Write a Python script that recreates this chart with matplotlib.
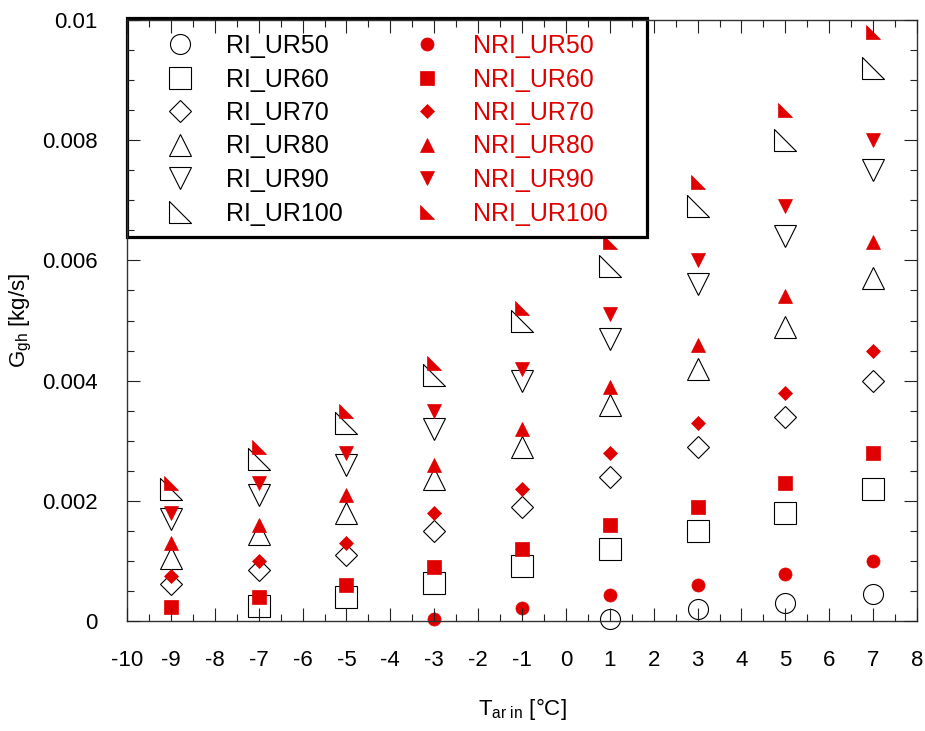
import numpy as np
import matplotlib
matplotlib.use("Agg")
import matplotlib.pyplot as plt
from matplotlib.patches import Rectangle
from matplotlib.path import Path
from matplotlib.ticker import MultipleLocator, FuncFormatter

plt.rcParams['font.family'] = ['Liberation Sans', 'DejaVu Sans']
plt.rcParams['mathtext.fontset'] = 'custom'
plt.rcParams['mathtext.rm'] = 'Liberation Sans'
plt.rcParams['mathtext.it'] = 'Liberation Sans'

nan = np.nan

# Inlet air temperature [°C]
T_in = [-9, -7, -5, -3, -1, 1, 3, 5, 7]

# Mass flow with insulation (RI), by relative humidity
RI_UR50 = [nan, nan, nan, nan, nan, 0.00004, 0.0002, 0.0003, 0.00045]
RI_UR60 = [nan, 0.00025, 0.0004, 0.00063, 0.00092, 0.0012, 0.0015, 0.0018, 0.0022]
RI_UR70 = [0.00061, 0.00085, 0.0011, 0.0015, 0.0019, 0.0024, 0.0029, 0.0034, 0.0040]
RI_UR80 = [0.00105, 0.00145, 0.0018, 0.00237, 0.0029, 0.0036, 0.0042, 0.0049, 0.0057]
RI_UR90 = [0.0017, 0.0021, 0.0026, 0.0032, 0.0040, 0.0047, 0.0056, 0.0064, 0.0075]
RI_UR100 = [0.0022, 0.0027, 0.0033, 0.0041, 0.0050, 0.0059, 0.0069, 0.0080, 0.0092]

# Mass flow without insulation (NRI)
NRI_UR50 = [nan, nan, nan, 0.00004, 0.00022, 0.00043, 0.0006, 0.00078, 0.0010]
NRI_UR60 = [0.00024, 0.0004, 0.0006, 0.0009, 0.0012, 0.0016, 0.0019, 0.0023, 0.0028]
NRI_UR70 = [0.00075, 0.0010, 0.0013, 0.0018, 0.0022, 0.0028, 0.0033, 0.0038, 0.0045]
NRI_UR80 = [0.0013, 0.0016, 0.0021, 0.0026, 0.0032, 0.0039, 0.0046, 0.0054, 0.0063]
NRI_UR90 = [0.0018, 0.0023, 0.0028, 0.0035, 0.0042, 0.0051, 0.0060, 0.0069, 0.0080]
NRI_UR100 = [0.0023, 0.0029, 0.0035, 0.0043, 0.0052, 0.0063, 0.0073, 0.0085, 0.0098]

RI_labels = ['RI_UR50', 'RI_UR60', 'RI_UR70', 'RI_UR80', 'RI_UR90', 'RI_UR100']
NRI_labels = ['NRI_UR50', 'NRI_UR60', 'NRI_UR70', 'NRI_UR80', 'NRI_UR90', 'NRI_UR100']

RED = '#e00000'
right_tri = Path([(-1, 1), (-1, -1), (1, -1), (-1, 1)],
                 [Path.MOVETO, Path.LINETO, Path.LINETO, Path.CLOSEPOLY])

# (marker, size) for open and filled series
open_style = [('o', 14.4), ('s', 15.8), ('D', 11.2), ('^', 15.8), ('v', 15.8), (right_tri, 15.8)]
fill_style = [('o', 9.4), ('s', 10.0), ('D', 7.2), ('^', 10.0), ('v', 10.0), (right_tri, 10.0)]

fig = plt.figure(figsize=(9.25, 7.31), dpi=100)
ax = fig.add_axes([127 / 925, 1 - 621 / 731, 790 / 925, 601 / 731])

handles = []
for data, lab, (m, ms) in zip([RI_UR50, RI_UR60, RI_UR70, RI_UR80, RI_UR90, RI_UR100],
                              RI_labels, open_style):
    h, = ax.plot(T_in, data, ls='none', marker=m, ms=ms, mfc='none', mec='black',
                 mew=0.8, clip_on=False, zorder=2, label=lab)
    handles.append(h)
for data, lab, (m, ms) in zip([NRI_UR50, NRI_UR60, NRI_UR70, NRI_UR80, NRI_UR90, NRI_UR100],
                              NRI_labels, fill_style):
    h, = ax.plot(T_in, data, ls='none', marker=m, ms=ms, mfc=RED, mec=RED,
                 mew=0.5, clip_on=False, zorder=2.1, label=lab)
    handles.append(h)

ax.set_xlim(-10, 8)
ax.set_ylim(0, 0.01)
ax.xaxis.set_major_locator(MultipleLocator(1))
ax.xaxis.set_minor_locator(MultipleLocator(0.5))
ax.yaxis.set_major_locator(MultipleLocator(0.002))
ax.yaxis.set_minor_locator(MultipleLocator(0.0005))
ax.yaxis.set_major_formatter(FuncFormatter(lambda v, p: '%g' % round(v, 6)))
ax.xaxis.set_major_formatter(FuncFormatter(lambda v, p: '%d' % round(v)))
ax.tick_params(which='both', direction='in', top=True, right=True, color='#222222',
               width=0.8, labelsize=16)
ax.tick_params(which='major', length=9.5, pad=21)
ax.tick_params(which='minor', length=5)
ax.set_axisbelow(False)
for s in ax.spines.values():
    s.set_linewidth(1.0)
    s.set_color('#333333')

ax.set_xlabel(r'$\mathregular{T_{ar\ in}}$ [°C]', fontsize=16)
ax.xaxis.set_label_coords(0.5, -0.125)
ax.set_ylabel(r'$\mathregular{G_{gh}}$ [kg/s]', fontsize=16)
ax.yaxis.set_label_coords(-0.118, 0.5)

# Legend box: opaque panel with a heavy border
frame = Rectangle((0, (621 - 237) / 601), (647 - 127) / 790, (237 - 18) / 601,
                  transform=ax.transAxes, facecolor='white', edgecolor='black',
                  linewidth=2.3, clip_on=False, zorder=2.2)
ax.add_patch(frame)

leg = ax.legend(handles=handles, ncol=2, loc='upper left',
                bbox_to_anchor=((160 - 127) / 790, (621 - 34) / 601),
                frameon=False, fontsize=18, borderpad=0, borderaxespad=0,
                handlelength=1.6, handletextpad=1.04, labelspacing=0.38,
                columnspacing=2.56, labelcolor=['black'] * 6 + [RED] * 6)
leg.set_zorder(5)

fig.savefig('out.png', dpi=100)
